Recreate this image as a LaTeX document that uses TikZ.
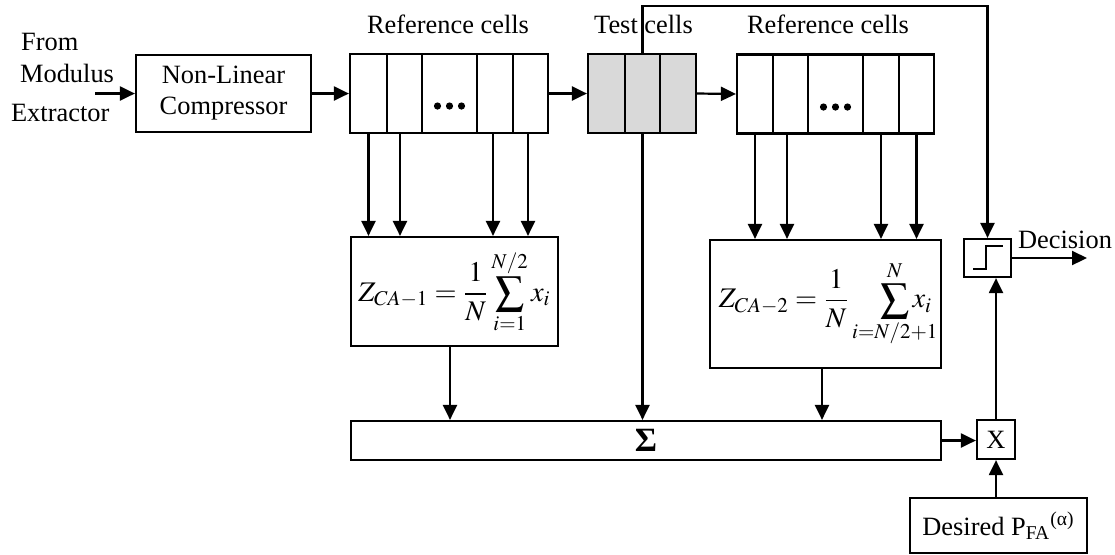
\documentclass[tikz,border=0pt]{standalone}
\usepackage{mathtools}
\usepackage{mathptmx}
\usepackage{fontspec}
\setmainfont{Liberation Serif}
\usetikzlibrary{arrows.meta}
\begin{document}
\begin{tikzpicture}[x=0.5pt,y=-0.5pt, line width=1.1pt,
  every node/.style={font=\fontsize{13.2pt}{15.5pt}\selectfont, inner sep=0pt},
  box/.style={draw, line width=1.1pt, inner sep=0pt},
  cell/.style={box, minimum height=39.5pt},
  tcell/.style={cell, fill=black!15},
  mathbox/.style={box, font=\fontsize{14.2pt}{17pt}\selectfont},
  arr/.style={-{Triangle[length=7.5pt,width=7pt]}}]
\useasboundingbox (0,0) rectangle (1115,554);

% labels
\node[anchor=base west] (from) at (20,50) {From};
\node[anchor=base west] (mod) at (19,82) {Modulus};
\node[anchor=base west] (ext) at (10,121) {Extractor};
\node[anchor=base] (lref) at (448,33) {Reference cells};
\node[anchor=base] (ltest) at (643.5,33) {Test cells};
\node[anchor=base] (rref) at (828,33) {Reference cells};

% compressor
\node[box, minimum width=87.5pt, minimum height=38.5pt, align=center] (nlc) at (223.5,93.5) {Non-Linear\\Compressor};

% left reference cells
\node[cell, minimum width=18.5pt] (rl1) at (368.5,93.5) {};
\node[cell, minimum width=17.5pt] (rl2) at (404.5,93.5) {};
\node[cell, minimum width=27.5pt] (rl3) at (449.5,93.5) {};
\node[cell, minimum width=18pt]   (rl4) at (495,93.5) {};
\node[cell, minimum width=17.5pt] (rl5) at (530.5,93.5) {};
% test cells
\node[tcell, minimum width=18.5pt] (tc1) at (606.5,93.5) {};
\node[tcell, minimum width=17.5pt] (tc2) at (642.5,93.5) {};
\node[tcell, minimum width=18pt]   (tc3) at (678,93.5) {};
% right reference cells
\node[cell, minimum width=18pt]   (rr1) at (755,94) {};
\node[cell, minimum width=17.5pt] (rr2) at (790.5,94) {};
\node[cell, minimum width=27.5pt] (rr3) at (835.5,94) {};
\node[cell, minimum width=18pt]   (rr4) at (881,94) {};
\node[cell, minimum width=17.5pt] (rr5) at (916.5,94) {};

% dots
\foreach \dx in {-12,0,12} {
  \fill ([shift={(\dx,12.5)}]rl3.center) circle[radius=1.8pt];
  \fill ([shift={(\dx,13)}]rr3.center) circle[radius=1.8pt];
}

% averaging boxes
\node[mathbox, minimum width=103.5pt, minimum height=54.5pt] (z1) at (454.5,291.5)
  {$\displaystyle Z_{CA-1}=\frac{1}{N}\sum_{i=1}^{N/2}x_i$};
\node[mathbox, minimum width=115.5pt, minimum height=64pt] (z2) at (825.5,304)
  {$\displaystyle Z_{CA-2}=\frac{1}{N}\smashoperator[r]{\sum_{i=N/2+1}^{N}}x_i$};

% sum, multiplier, threshold, desired
\node[box, minimum width=295pt, minimum height=19.5pt, font=\fontsize{17pt}{19pt}\selectfont\bfseries] (sig) at (646,440.5) {Σ};
\node[box, minimum width=19pt, minimum height=19.5pt] (mul) at (996,439.5) {X};
\node[box, minimum width=88.5pt, minimum height=27.5pt] (pfa) at (998.5,525.5)
  {Desired P\textsubscript{FA}\textsuperscript{(α)}};
\node[box, minimum width=23.5pt, minimum height=19pt] (thr) at (987.5,258) {};
\draw ([shift={(-14.5,11)}]thr.center) -- ++(13,0) -- ++(0,-23) -- ++(17,0);
\node[anchor=base west] (dec) at (1017,248) {Decision};

% connectors
\coordinate (inp) at (95,93.5);
\coordinate (decend) at (1087,258);
\draw[arr] (inp) -- (nlc.west);
\draw[arr] (nlc.east) -- (rl1.west);
\draw[arr] (rl5.east) -- (tc1.west);
\draw[arr] (tc3.east) -- (rr1.west);
\foreach \c/\s in {rl1/0pt,rl2/-2.25pt,rl4/-1pt,rl5/-1.25pt}
  \draw[arr] ([xshift=\s]\c.south) -- ([xshift=\s]\c.south |- z1.north);
\foreach \c/\s in {rr1/0pt,rr2/-1.75pt,rr4/0pt,rr5/0pt}
  \draw[arr] ([xshift=\s]\c.south) -- ([xshift=\s]\c.south |- z2.north);
\draw[arr] (tc2.north) -- ++(0,-47) -| (thr.north);
\draw[arr] (tc2.south) -- (tc2.south |- sig.north);
\draw[arr] ([xshift=-2.25pt]z1.south) -- ([xshift=-2.25pt]z1.south |- sig.north);
\draw[arr] ([xshift=-1.75pt]z2.south) -- ([xshift=-1.75pt]z2.south |- sig.north);
\draw[arr] (sig.east) -- (sig.east -| mul.west);
\draw[arr] (pfa.north -| mul.south) -- (mul.south);
\draw[arr] (mul.north) -- (mul.north |- thr.south);
\draw[arr] (thr.east) -- (decend);
\end{tikzpicture}
\end{document}
